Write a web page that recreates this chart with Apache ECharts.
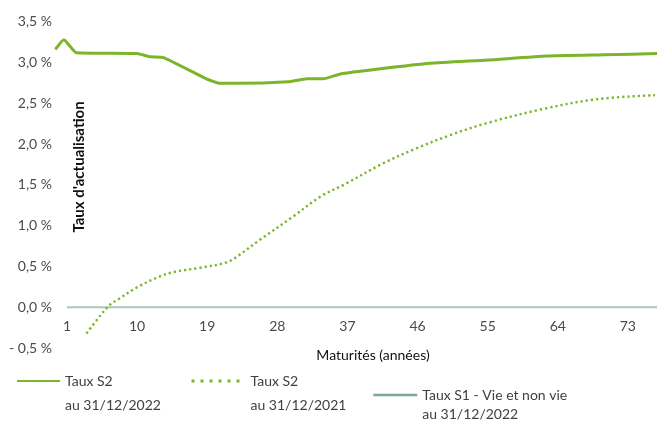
<!DOCTYPE html>
<html>
<head>
<meta charset="utf-8">
<script src="https://cdn.jsdelivr.net/npm/echarts@6/dist/echarts.min.js"></script>
<style>
html,body{margin:0;padding:0;background:#fff;}
#chart{width:657px;height:423px;}
</style>
</head>
<body>
<div id="chart"></div>
<script>
// ---- Data ----
const maturities2022 = [-0.5, 0.6, 2.2, 10, 11.7, 13.4, 18.9, 20.6, 23, 29.4, 31.8, 33.9, 36.1, 41, 47.6, 55, 62.6, 70, 77];
const values2022     = [3.16, 3.28, 3.12, 3.11, 3.07, 3.06, 2.80, 2.745, 2.745, 2.765, 2.80, 2.80, 2.86, 2.92, 2.99, 3.03, 3.08, 3.095, 3.11];

const maturities2021 = [3.5, 5.2, 6.5, 7.6, 10, 12.7, 14.6, 18.1, 21.5, 22.8, 25.8, 30, 33.5, 36.7, 41.6, 45.9, 50.2, 55, 62.1, 69, 76.5];
const values2021     = [-0.32, -0.11, 0.03, 0.10, 0.245, 0.37, 0.43, 0.485, 0.55, 0.62, 0.83, 1.11, 1.355, 1.51, 1.765, 1.95, 2.11, 2.26, 2.43, 2.55, 2.60];

const maturitiesS1 = [1, 77];
const valuesS1     = [0, 0];

const xTickValues = [1, 10, 19, 28, 37, 46, 55, 64, 73];
const yTickValues = [-0.5, 0, 0.5, 1, 1.5, 2, 2.5, 3, 3.5];

const seriesNames = ['S2_2022', 'S2_2021', 'S1_2022'];
const legendLines1 = ['Taux S2', 'Taux S2', 'Taux S1 - Vie et non vie'];
const legendLines2 = ['au 31/12/2022', 'au 31/12/2021', 'au 31/12/2022'];
const axisTitleX = 'Maturités (années)';
const axisTitleY = "Taux d'actualisation";

// ---- Chart ----
const FONT = 'Lato, "Open Sans", sans-serif';
const pair = (xs, ys) => xs.map((x, i) => [x, ys[i]]);
const fmtY = v => (v < 0 ? '- ' : '') + Math.abs(v).toFixed(1).replace('.', ',') + ' %';

const chart = echarts.init(document.getElementById('chart'), null, {renderer: 'canvas'});

// icon centre y = top + 7 + 1.5*lineHeight - 7  (leading blank line keeps first row on the icon)
function legendFor(i, left, iconY, itemWidth, lineHeight, lineStyle) {
  return {
    show: true,
    data: [{name: seriesNames[i], lineStyle: lineStyle, itemStyle: {opacity: 0}}],
    left: left, top: iconY - 1.5 * lineHeight, padding: 0,
    orient: 'horizontal',
    itemWidth: itemWidth, itemHeight: 14, itemGap: 0,
    selectedMode: false,
    formatter: () => '\n' + legendLines1[i] + '\n' + legendLines2[i],
    textStyle: {fontFamily: FONT, fontSize: 14, color: '#404040', lineHeight: lineHeight}
  };
}

chart.setOption({
  animation: false,
  backgroundColor: '#ffffff',
  grid: {left: 55, right: 0, top: 21.7, bottom: 74.9, containLabel: false},
  xAxis: {
    type: 'value', min: -0.54, max: 76.74,
    axisLine: {show: false},
    axisTick: {show: false},
    splitLine: {show: false},
    axisLabel: {customValues: xTickValues, fontFamily: FONT, fontSize: 14, color: '#4a4a4a', margin: -28.5}
  },
  yAxis: {
    type: 'value', min: -0.5, max: 3.5, interval: 0.5,
    axisLine: {show: false}, axisTick: {show: false}, splitLine: {show: false},
    axisLabel: {customValues: yTickValues, formatter: fmtY, fontFamily: FONT, fontSize: 14, color: '#4a4a4a', margin: 3}
  },
  legend: [
    legendFor(0, 16, 381, 43, 24, undefined),
    legendFor(1, 190, 381, 54, 24, {type: [3, 6], width: 3, cap: 'butt'}),
    legendFor(2, 372, 395, 44, 19, {color: '#7aa9a0', width: 2.5})
  ],
  graphic: [
    {type: 'text', x: 79, y: 167, rotation: Math.PI / 2,
     style: {text: axisTitleY, fontFamily: FONT, fontSize: 15, fontWeight: 'bold', fill: '#111', align: 'center', verticalAlign: 'middle'}},
    {type: 'text', x: 373, y: 355,
     style: {text: axisTitleX, fontFamily: FONT, fontSize: 14, fill: '#111', align: 'center', verticalAlign: 'middle'}}
  ],
  series: [
    {name: seriesNames[0], type: 'line', data: pair(maturities2022, values2022), symbol: 'none', clip: false,
     smooth: 0.15, lineStyle: {color: '#7ab52a', width: 3}, itemStyle: {color: '#7ab52a'}, z: 3},
    {name: seriesNames[1], type: 'line', data: pair(maturities2021, values2021), symbol: 'none', clip: false,
     smooth: 0.35, lineStyle: {color: '#7ab52a', width: 2.4, type: [2.2, 3], cap: 'butt'}, itemStyle: {color: '#7ab52a'}, z: 3},
    {name: seriesNames[2], type: 'line', data: pair(maturitiesS1, valuesS1), symbol: 'none', clip: false,
     lineStyle: {color: '#a3ccb3', width: 2}, itemStyle: {color: '#7aa9a0'}, z: 2}
  ]
});
</script>
</body>
</html>
